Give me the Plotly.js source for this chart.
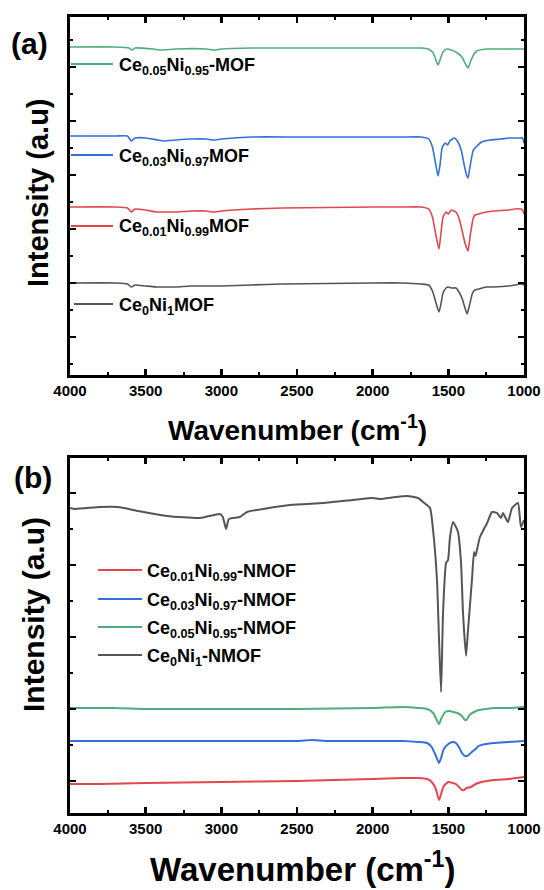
<!DOCTYPE html>
<html>
<head>
<meta charset="utf-8">
<script src="https://cdn.plot.ly/plotly-3.0.1.min.js"></script>
<style>
  html, body { margin: 0; padding: 0; background: #ffffff; }
  #chart { width: 544px; height: 890px; }
</style>
</head>
<body>
<div id="chart"></div>
<script>
// ---- FTIR spectra, panel (a): MOF samples (wavenumber in cm^-1, intensity in a.u., offset stacked) ----
const wnA_green = [4000, 3700, 3610, 3590, 3570, 3450, 3400, 3300, 3100, 3050, 3000, 2800, 2500, 2000, 1800, 1680, 1630, 1600, 1580, 1568, 1555, 1535, 1510, 1480, 1440, 1410, 1390, 1370, 1355, 1330, 1311, 1250, 1200, 1100, 1000];
const intA_green = [328, 328, 327, 325, 327, 326, 325, 326, 326, 325, 326, 327, 327, 327, 327, 327, 326, 322, 314, 310, 315, 323, 326, 325, 322, 318, 312, 307, 313, 321, 324, 326, 326, 326, 326];

const wnA_blue = [4000, 3700, 3620, 3595, 3570, 3500, 3420, 3380, 3300, 3200, 3100, 3050, 3000, 2800, 2500, 2000, 1800, 1680, 1630, 1605, 1585, 1568, 1555, 1540, 1520, 1505, 1490, 1460, 1440, 1415, 1395, 1380, 1370, 1355, 1335, 1311, 1280, 1225, 1150, 1100, 1030, 1010, 1000];
const intA_blue = [239, 239, 239, 234, 237, 237, 235, 234, 235, 236, 236, 235, 236, 238, 238, 238, 238, 238, 236, 228, 212, 199, 210, 228, 232, 230, 234, 237, 234, 225, 210, 200, 197, 210, 225, 229, 233, 235, 236, 237, 237, 237, 232];

const wnA_red = [4000, 3700, 3620, 3595, 3570, 3500, 3430, 3380, 3300, 3200, 3100, 3050, 3000, 2800, 2600, 2000, 1800, 1680, 1630, 1605, 1585, 1562, 1550, 1535, 1515, 1500, 1480, 1450, 1430, 1410, 1390, 1370, 1355, 1335, 1324, 1300, 1250, 1200, 1100, 1060, 1020, 1010, 1000];
const intA_red = [168, 168, 167, 163, 166, 165, 163, 163, 163, 164, 164, 163, 164, 166, 167, 168, 168, 168, 166, 158, 142, 126, 140, 158, 163, 161, 165, 163, 157, 145, 132, 124, 140, 157, 160, 161, 163, 164, 165, 166, 166, 165, 161];

const wnA_gray = [4000, 3700, 3620, 3595, 3570, 3500, 3420, 3380, 3300, 3200, 3100, 3000, 2800, 2600, 2000, 1800, 1680, 1630, 1605, 1585, 1562, 1550, 1535, 1515, 1500, 1480, 1450, 1430, 1410, 1390, 1376, 1360, 1340, 1324, 1300, 1250, 1200, 1100, 1020, 1000];
const intA_gray = [92, 92, 91, 88, 90, 89, 88, 88, 88, 89, 89, 89, 90, 91, 92, 92, 91, 90, 84, 74, 63, 70, 82, 87, 88, 87, 87, 83, 77, 67, 61, 70, 82, 85, 86, 88, 88, 89, 91, 90];

// ---- FTIR spectra, panel (b): NMOF samples ----
const wnB_gray = [4000, 3967, 3800, 3683, 3550, 3359, 3141, 3009, 2990, 2969, 2950, 2877, 2830, 2546, 2328, 2130, 1998, 1952, 1850, 1773, 1700, 1667, 1621, 1601, 1575, 1562, 1548, 1535, 1515, 1502, 1489, 1469, 1436, 1416, 1403, 1383, 1370, 1344, 1330, 1320, 1311, 1291, 1244, 1211, 1178, 1152, 1139, 1106, 1079, 1040, 1020, 1000];
const intB_gray = [305, 304, 306, 306, 302, 297, 295, 299, 296, 284, 294, 296, 301, 308, 310, 313, 315, 314, 316, 317, 315, 311, 305, 283, 233, 176, 121, 200, 250, 253, 276, 291, 281, 250, 200, 157, 183, 233, 261, 257, 263, 276, 290, 301, 300, 295, 300, 291, 305, 310, 286, 293];

const wnB_green = [4000, 3700, 3500, 3000, 2500, 2000, 1800, 1700, 1640, 1600, 1580, 1562, 1545, 1520, 1490, 1470, 1440, 1410, 1390, 1380, 1360, 1330, 1300, 1250, 1200, 1100, 1000];
const intB_green = [105, 105, 104, 104, 104, 105, 106, 105, 104, 100, 94, 89, 95, 101, 102, 101, 100, 97, 93, 93, 98, 101, 103, 104, 105, 105, 106];

const wnB_blue = [4000, 3700, 3400, 3000, 2500, 2400, 2300, 2000, 1800, 1700, 1640, 1610, 1585, 1562, 1548, 1530, 1500, 1470, 1450, 1430, 1410, 1390, 1380, 1365, 1345, 1320, 1300, 1250, 1200, 1100, 1000];
const intB_blue = [72, 72, 72, 72, 72, 73, 72, 72, 72, 71, 70, 66, 58, 50, 55, 64, 69, 71, 70, 66, 60, 57, 57, 58, 61, 64, 67, 69, 70, 71, 72];

const wnB_red = [4000, 3800, 3500, 3000, 2500, 2000, 1800, 1700, 1640, 1610, 1585, 1562, 1550, 1530, 1500, 1470, 1450, 1430, 1410, 1395, 1380, 1350, 1320, 1280, 1200, 1100, 1000];
const intB_red = [29, 29, 30, 31, 32, 34, 35, 35, 34, 31, 25, 13, 18, 27, 31, 30, 29, 26, 23, 23, 25, 26, 29, 31, 33, 34, 36];

// ---- labels ----
const labelsA = ['Ce<sub>0.05</sub>Ni<sub>0.95</sub>-MOF', 'Ce<sub>0.03</sub>Ni<sub>0.97</sub>MOF', 'Ce<sub>0.01</sub>Ni<sub>0.99</sub>MOF', 'Ce<sub>0</sub>Ni<sub>1</sub>MOF'];
const labelsB = ['Ce<sub>0.01</sub>Ni<sub>0.99</sub>-NMOF', 'Ce<sub>0.03</sub>Ni<sub>0.97</sub>-NMOF', 'Ce<sub>0.05</sub>Ni<sub>0.95</sub>-NMOF', 'Ce<sub>0</sub>Ni<sub>1</sub>-NMOF'];
const xTitle = 'Wavenumber (cm<sup>-1</sup>)';
const yTitle = 'Intensity (a.u)';

// ---- styling ----
const C = { green: '#4fae7b', blue: '#3370d8', red: '#e2474f', gray: '#555555' };
const FONT = 'Liberation Sans, Arial, Helvetica, sans-serif';

// plot-area geometry (px) used for placing paper-referenced decorations
const W = 544, H = 890;
const M = { l: 70, r: 20, t: 17, b: 77 };
const plotW = W - M.l - M.r, plotH = H - M.t - M.b;
const px = v => (v - M.l) / plotW;
const py = v => (H - M.b - v) / plotH;

function spec(x, y, color, xa, ya, name, w) {
  return {
    type: 'scatter', mode: 'lines', x: x, y: y, name: name,
    xaxis: xa, yaxis: ya,
    line: { color: color, width: w, shape: 'spline', smoothing: 0.5 },
    hoverinfo: 'skip', showlegend: false
  };
}

const traces = [
  spec(wnA_green, intA_green, C.green, 'x', 'y', labelsA[0], 1.6),
  spec(wnA_blue, intA_blue, C.blue, 'x', 'y', labelsA[1], 1.6),
  spec(wnA_red, intA_red, C.red, 'x', 'y', labelsA[2], 1.6),
  spec(wnA_gray, intA_gray, C.gray, 'x', 'y', labelsA[3], 1.6),
  spec(wnB_red, intB_red, C.red, 'x2', 'y2', labelsB[0], 2),
  spec(wnB_blue, intB_blue, C.blue, 'x2', 'y2', labelsB[1], 2),
  spec(wnB_green, intB_green, C.green, 'x2', 'y2', labelsB[2], 2),
  spec(wnB_gray, intB_gray, C.gray, 'x2', 'y2', labelsB[3], 2)
];

const xCommon = {
  range: [4000, 1000], autorange: false,
  showline: true, linewidth: 3, linecolor: '#000', mirror: 'ticks',
  ticks: 'inside', ticklen: 6, tickwidth: 2.5, tickcolor: '#000',
  tick0: 1000, dtick: 500,
  tickfont: { family: FONT, size: 15, color: '#000', weight: 'bold' },
  showgrid: false, zeroline: false,
  minor: { tick0: 1000, dtick: 250, ticks: 'inside', ticklen: 3, tickwidth: 2, tickcolor: '#000', showgrid: false }
};
const yCommon = {
  autorange: false, showline: true, linewidth: 3, linecolor: '#000', mirror: 'ticks',
  ticks: 'inside', ticklen: 6, tickwidth: 2.5, tickcolor: '#000',
  showticklabels: false, showgrid: false, zeroline: false
};

const layout = {
  width: W, height: H,
  margin: M,
  paper_bgcolor: '#ffffff', plot_bgcolor: '#ffffff',
  showlegend: false, hovermode: false,
  xaxis: Object.assign({}, xCommon, { anchor: 'y', domain: [0, 1] }),
  xaxis2: Object.assign({}, xCommon, { anchor: 'y2', domain: [0, 1] }),
  yaxis: Object.assign({}, yCommon, {
    anchor: 'x', domain: [py(375), 1], range: [0, 358], tick0: 38, dtick: 54,
    minor: { tick0: 11, dtick: 27, ticks: 'inside', ticklen: 3, tickwidth: 2, tickcolor: '#000', showgrid: false }
  }),
  yaxis2: Object.assign({}, yCommon, {
    anchor: 'x2', domain: [0, py(458)], range: [0, 355], tick0: 32, dtick: 72,
    minor: { tick0: 32, dtick: 36, ticks: 'inside', ticklen: 3, tickwidth: 2, tickcolor: '#000', showgrid: false }
  }),
  shapes: [],
  annotations: []
};

function note(text, x, y, size, extra) {
  layout.annotations.push(Object.assign({
    text: text, xref: 'paper', yref: 'paper', x: px(x), y: py(y),
    xanchor: 'center', yanchor: 'middle', showarrow: false,
    font: { family: FONT, size: size, color: '#000', weight: 'bold' }
  }, extra || {}));
}
function key(color, x0, x1, y, w) {
  layout.shapes.push({
    type: 'line', xref: 'paper', yref: 'paper',
    x0: px(x0), x1: px(x1), y0: py(y), y1: py(y),
    line: { color: color, width: w }
  });
}

// panel tags
note('<b>(a)</b>', 29, 44, 30);
note('<b>(b)</b>', 33, 478, 30);

// axis titles
note('<b>' + xTitle + '</b>', 297, 428, 28);
note('<b>' + xTitle + '</b>', 302, 867, 33);
note('<b>' + yTitle + '</b>', 38, 193, 29, { textangle: -90 });
note('<b>' + yTitle + '</b>', 33, 615, 30, { textangle: -90 });

// panel (a) inline sample labels
const keysA = [[C.green, 64], [C.blue, 155], [C.red, 226], [C.gray, 304]];
keysA.forEach((k, i) => {
  key(k[0], i === 3 ? 74 : 71, 113, k[1], 1.8);
  note('<b>' + labelsA[i] + '</b>', 117, k[1] + 2, 18, { xanchor: 'left' });
});

// panel (b) legend
const keysB = [[C.red, 570], [C.blue, 599], [C.green, 627], [C.gray, 655]];
keysB.forEach((k, i) => {
  key(k[0], 98, 142, k[1], 2);
  note('<b>' + labelsB[i] + '</b>', 145, k[1] + 2, 18, { xanchor: 'left' });
});

Plotly.newPlot('chart', traces, layout, { staticPlot: true, displayModeBar: false });
</script>
</body>
</html>
